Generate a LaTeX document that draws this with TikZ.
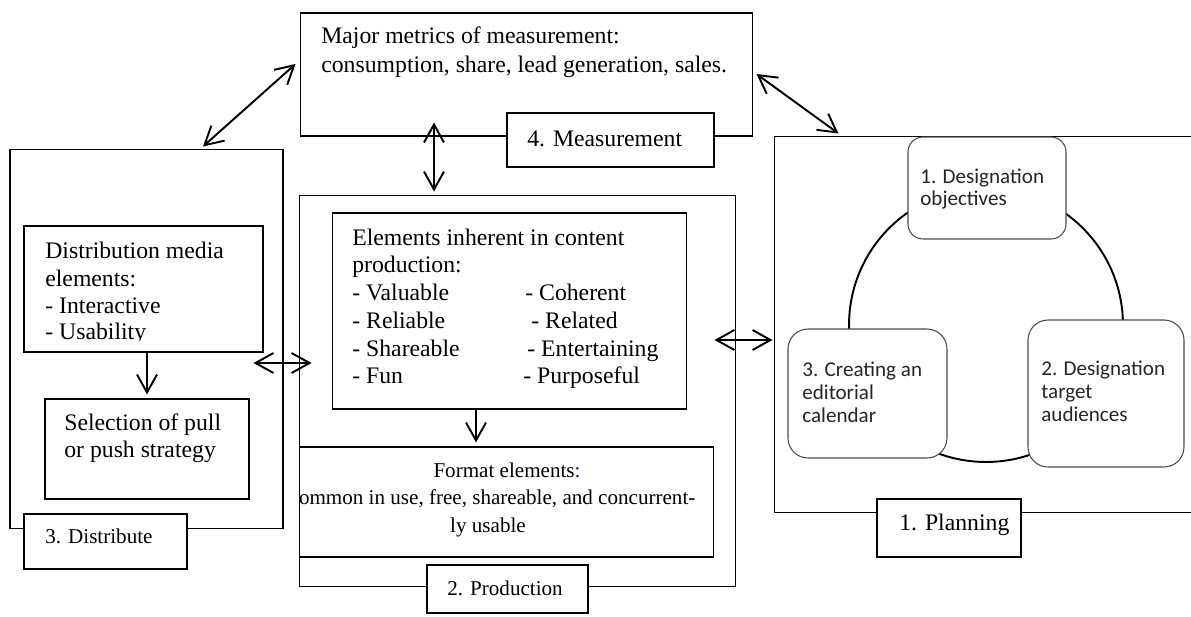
\documentclass[tikz,border=0pt]{standalone}
\usepackage{fontspec}
\setmainfont{Liberation Serif}
\newfontfamily\calibfont{Carlito}
\usetikzlibrary{arrows.meta}

\tikzset{
  box/.style={draw, line width=0.6pt, inner sep=0pt},
  lblbox/.style={box, fill=white},
  roundbox/.style={draw=black!70, line width=0.6pt, fill=white, inner sep=0pt},
  txt/.style={anchor=base west, inner sep=0pt, font=\fontsize{13.5}{15.5}\selectfont},
  smalltxt/.style={txt, font=\fontsize{12}{14}\selectfont},
  cbtxt/.style={anchor=base west, inner sep=0pt, text=black!85, font=\calibfont\fontsize{12}{13}\selectfont},
  dblarr/.style={{Straight Barb[length=3.6mm,width=4mm]}-{Straight Barb[length=3.6mm,width=4mm]}, line width=1.1pt},
  onearr/.style={-{Straight Barb[length=3.6mm,width=4mm]}, line width=1.1pt}
}

\begin{document}
\begin{tikzpicture}[x=0.02cm, y=-0.02cm]
\clip (0,0) rectangle (1191,616);

% outer boxes
\node[box, minimum width=9.06cm, minimum height=2.46cm] (meas) at (526.5,74.5) {};
\node[box, minimum width=5.46cm, minimum height=7.6cm] (dist) at (146.5,339) {};
\node[box, minimum width=8.74cm, minimum height=7.84cm] (prod) at (517.5,391) {};
\node[box, minimum width=8.52cm, minimum height=7.54cm] (plan) at (987,324.5) {};

% inner boxes
\node[box, minimum width=4.78cm, minimum height=2.52cm] (media) at (143.5,289) {};
\node[box, minimum width=4.08cm, minimum height=2cm] (pull) at (147,449) {};
\node[box, minimum width=7.1cm, minimum height=3.92cm] (inher) at (509.5,311) {};
\node[box, minimum width=8.3cm, minimum height=2.2cm] (format) at (506.5,502) {};

% planning cycle
\draw[line width=1.1pt] (986,325) circle[radius=2.74cm];
\node[roundbox, rounded corners=0.3cm, minimum width=3.16cm, minimum height=2.04cm] (obj) at (987,188) {};
\node[roundbox, rounded corners=0.4cm, minimum width=3.12cm, minimum height=2.94cm] (aud) at (1106,393.5) {};
\node[roundbox, rounded corners=0.4cm, minimum width=3.18cm, minimum height=2.58cm] (cal) at (867.5,393.5) {};

% stage labels
\node[lblbox, minimum width=4.14cm, minimum height=1.08cm] (measlbl) at (610.5,140) {};
\node[lblbox, minimum width=3.26cm, minimum height=1.1cm] (distlbl) at (105.5,541.5) {};
\node[lblbox, minimum width=3.22cm, minimum height=0.96cm] (prodlbl) at (507.5,589) {};
\node[lblbox, minimum width=2.88cm, minimum height=1.16cm] (planlbl) at (949,528) {};
\node[txt] (measlbltxt) at (527,146) {4. Measurement};
\node[smalltxt] (distlbltxt) at (45,543) {3. Distribute};
\node[smalltxt] (prodlbltxt) at (447,595) {2. Production};
\node[txt] (planlbltxt) at (899,530) {1. Planning};

% texts
\node[txt] (meas1) at (321,43) {Major metrics of measurement:};
\node[txt] (meas2) at (321,72) {consumption, share, lead generation, sales.};

\begin{scope}
\clip (24,226) rectangle (263,340.5);
\node[txt] (media1) at (45,258) {Distribution media};
\node[txt] (media2) at (45,286) {elements:};
\node[txt] (media3) at (45,313) {- Interactive};
\node[txt] (media4) at (45,339) {- Usability};
\end{scope}
\node[txt] (pull1) at (64,430) {Selection of pull};
\node[txt] (pull2) at (64,457) {or push strategy};

\node[txt] (inher1) at (352,245) {Elements inherent in content};
\node[txt] (inher2) at (352,272) {production:};
\foreach \lt/\rt/\rx/\yy [count=\i] in {Valuable/Coherent/525/300, Reliable/Related/531/328,
    Shareable/Entertaining/527/356, Fun/Purposeful/523/383}{
  \node[txt] (pl\i) at (352,\yy) {- \lt};
  \node[txt] (pr\i) at (\rx,\yy) {- \rt};
}

\node[smalltxt, anchor=base] (fmt1) at (507,477) {Format elements\textcolor{blue}{:}};
\begin{scope}
\clip (299,447) rectangle (714,557);
\node[smalltxt, anchor=base] (fmt2) at (492.5,504) {common in use, free, shareable, and concurrent-};
\end{scope}
\node[smalltxt, anchor=base] (fmt3) at (488,532) {ly usable};

\node[cbtxt] (obj1) at (920,183) {1. Designation};
\node[cbtxt] (obj2) at (920,205) {objectives};
\node[cbtxt] (cal1) at (802,376) {3. Creating an};
\node[cbtxt] (cal2) at (802,399) {editorial};
\node[cbtxt] (cal3) at (802,422) {calendar};
\node[cbtxt] (aud1) at (1041,375) {2. Designation};
\node[cbtxt] (aud2) at (1041,398) {target};
\node[cbtxt] (aud3) at (1041,421) {audiences};

% arrows
\draw[dblarr] ([shift={(-4,-10.5)}]meas.west) -- ([shift={(56.5,-2)}]dist.north);
\draw[dblarr] ([shift={(3,-0.5)}]meas.east) -- ([shift={(65,-2)}]plan.north west);
\draw[dblarr] ([shift={(-92.5,-14)}]meas.south) -- ([shift={(-83.5,-3)}]prod.north);
\draw[dblarr] ([shift={(-30,24)}]dist.east) -- ([shift={(13,-28)}]prod.west);
\draw[dblarr] ([shift={(-22,-51)}]prod.east) -- ([shift={(-1,15.5)}]plan.west);
\draw[onearr] ([shift={(3.5,0)}]media.south) -- ([shift={(0,-4)}]pull.north);
\draw[onearr] ([shift={(-33.5,0)}]inher.south) -- ([shift={(-30.5,-4)}]format.north);
\end{tikzpicture}
\end{document}
